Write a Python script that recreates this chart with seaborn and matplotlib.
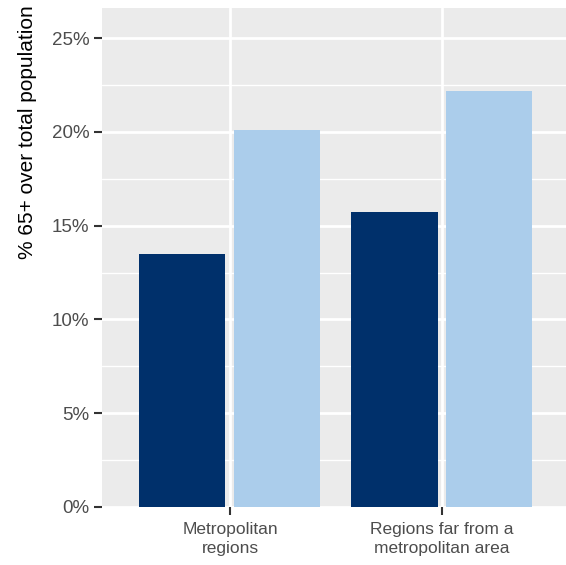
import pandas as pd
import seaborn as sns
import matplotlib.pyplot as plt
from matplotlib.ticker import MultipleLocator, FuncFormatter

categories = ["Metropolitan\nregions", "Regions far from a\nmetropolitan area"]
groups = ["A", "B"]
values_a = [13.5, 15.7]
values_b = [20.1, 22.2]
palette = {"A": "#00306B", "B": "#ABCDEB"}

df = pd.DataFrame({
    "region": categories * 2,
    "group": ["A"] * 2 + ["B"] * 2,
    "share": values_a + values_b,
})

sns.set_theme(style="darkgrid")
plt.rcParams["font.family"] = ["Liberation Sans", "DejaVu Sans"]

fig = plt.figure(figsize=(5.66, 5.65), dpi=100)
ax = fig.add_axes([0.180, 0.1027, 0.820, 0.8831])
ax.set_facecolor("#EBEBEB")

sns.barplot(data=df, x="region", y="share", hue="group", palette=palette,
            width=0.896, gap=0.094, saturation=1, legend=False, ax=ax,
            linewidth=0, edgecolor="none", zorder=3)

ax.set_ylim(0, 26.6)
ax.set_xlim(-0.604, 1.585)
ax.yaxis.set_major_locator(MultipleLocator(5))
ax.yaxis.set_minor_locator(MultipleLocator(2.5))
ax.yaxis.set_major_formatter(FuncFormatter(lambda v, p: f"{v:.0f}%"))
ax.grid(which="major", color="white", linewidth=2.0, zorder=0)
ax.grid(which="minor", axis="y", color="white", linewidth=1.0, zorder=0)
ax.set_axisbelow(True)
for s in ax.spines.values():
    s.set_visible(False)

ax.tick_params(axis="both", which="major", length=6, width=1.5, color="#333333",
               labelcolor="#4D4D4D", bottom=True, left=True)
ax.tick_params(axis="y", which="major", labelsize=13.5, pad=3)
ax.tick_params(axis="x", which="major", labelsize=12.5, pad=5)
ax.tick_params(which="minor", length=0)
for lbl in ax.get_xticklabels():
    lbl.set_linespacing(1.35)
ax.set_xlabel("")
ax.set_ylabel("")
fig.text(0.048, 0.766, "% 65+ over total population", rotation=90,
         ha="center", va="center", fontsize=15, color="black")

fig.savefig("out.png", dpi=100)
